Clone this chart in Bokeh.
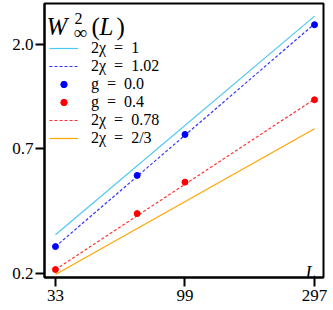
from bokeh.plotting import figure
from bokeh.models import (Range1d, FixedTicker, PrintfTickFormatter, Legend,
                          LegendItem, Label)
from bokeh.embed import file_html
from bokeh.resources import INLINE

# ---- data ----
L_points = [33, 66, 99, 297]
w2_g00 = [0.262, 0.536, 0.809, 2.44]
w2_g04 = [0.208, 0.365, 0.501, 1.147]
L_fit = [33, 297]
fit_chi_1 = [0.295, 2.66]
fit_chi_102 = [0.262, 2.46]
fit_chi_078 = [0.208, 1.155]
fit_chi_23 = [0.198, 0.857]
x_ticks = [33, 99, 297]
y_ticks = [0.2, 0.7, 2.0]
SP = "\u2002"
legend_labels = [f"2χ{SP}={SP}1", f"2χ{SP}={SP}1.02", f"g{SP}={SP}0.0",
                 f"g{SP}={SP}0.4", f"2χ{SP}={SP}0.78", f"2χ{SP}={SP}2/3"]

FONT = "Liberation Serif"
FW, FH = 279, 274

p = figure(x_axis_type="log", y_axis_type="log",
           frame_width=FW, frame_height=FH,
           x_range=Range1d(30.07, 320.5), y_range=Range1d(0.192, 3.02),
           output_backend="svg", toolbar_location=None,
           min_border_left=44, min_border_right=10, min_border_top=3,
           min_border_bottom=33)

p.grid.visible = False
p.outline_line_color = "black"
p.outline_line_width = 2
p.background_fill_color = "white"
p.border_fill_color = "white"

for ax in (p.xaxis[0], p.yaxis[0]):
    ax.axis_line_width = 2
    ax.major_tick_line_width = 2
    ax.major_tick_out = 9
    ax.major_tick_in = 0
    ax.minor_tick_line_color = None
    ax.major_label_text_font = FONT
    ax.major_label_text_font_size = "17px"
    ax.major_label_text_color = "black"

p.xaxis.ticker = FixedTicker(ticks=x_ticks, minor_ticks=[])
p.yaxis.ticker = FixedTicker(ticks=y_ticks, minor_ticks=[])
p.xaxis.formatter = PrintfTickFormatter(format="%d")
p.yaxis.formatter = PrintfTickFormatter(format="%.1f")
p.xaxis.major_label_standoff = 3
p.yaxis.major_label_standoff = 2

r_c = p.line(L_fit, fit_chi_1, line_color="#4cc8f4", line_width=1.2)
r_b = p.line(L_fit, fit_chi_102, line_color="blue", line_width=1.2,
             line_dash="3 2", line_alpha=0.8)
r_r = p.line(L_fit, fit_chi_078, line_color="red", line_width=1.2,
             line_dash="3 2", line_alpha=0.8)
r_o = p.line(L_fit, fit_chi_23, line_color="orange", line_width=1.2)
r_g0 = p.scatter(L_points, w2_g00, size=6, color="blue")
r_g4 = p.scatter(L_points, w2_g04, size=6, color="red")

items = [LegendItem(label=lab, renderers=[r]) for lab, r in
         zip(legend_labels, [r_c, r_b, r_g0, r_g4, r_r, r_o])]
leg = Legend(items=items, location=(5, FH - 48 - 96), padding=0, margin=0,
             spacing=0, glyph_width=29, glyph_height=16, label_height=16,
             label_standoff=13, border_line_alpha=0, background_fill_alpha=0,
             label_text_font=FONT, label_text_font_size="16px",
             label_text_color="black")
p.add_layout(leg)

# title W^2_inf(L) inside the frame
def lab(text, x, y, size, style="normal"):
    p.add_layout(Label(text=text, x=x, y=y, x_units="screen", y_units="screen",
                       text_font=FONT, text_font_size=size, text_font_style=style,
                       text_baseline="alphabetic", text_color="black"))

lab("W", 2, FH - 23, "25px", "italic")
lab("2", 30, FH - 15, "16px")
lab("∞", 29, FH - 29, "19px")
lab("(", 47, FH - 23, "25px")
lab("L", 55, FH - 23, "25px", "italic")
lab(")", 72, FH - 23, "25px")
lab("L", 261, 5, "18px", "italic")

open("out.html", "w").write(file_html(p, INLINE))
